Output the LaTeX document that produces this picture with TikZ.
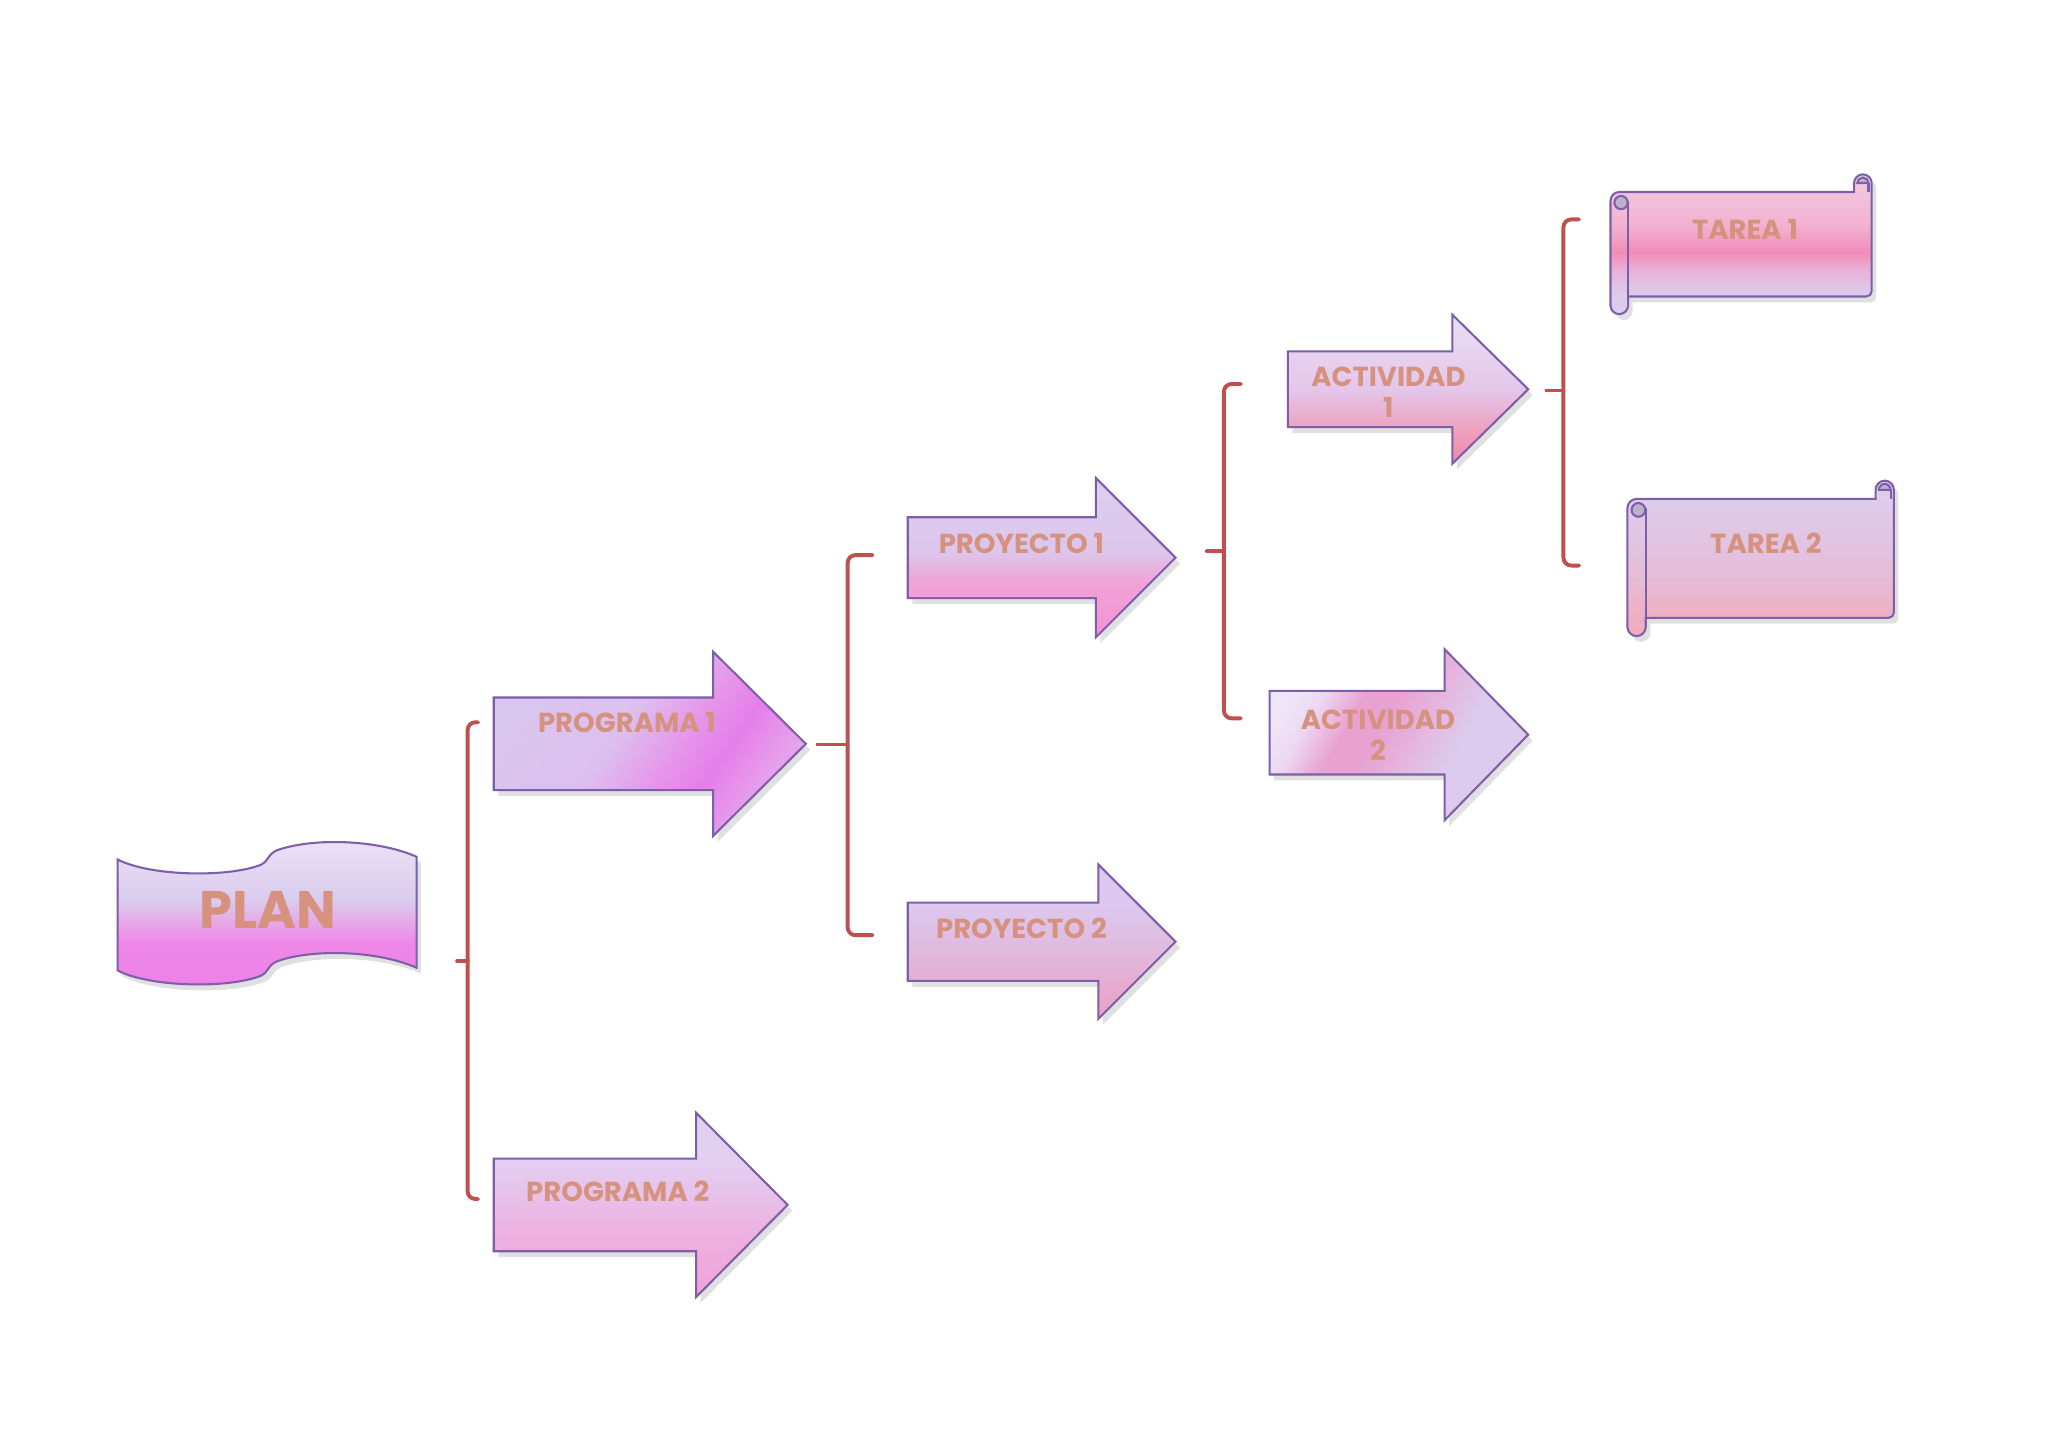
\documentclass[tikz,border=0pt]{standalone}
\usepackage{fontspec}
\setmainfont{Poppins}
\usetikzlibrary{shadows}

\definecolor{txt}{HTML}{D6917F}
\definecolor{edge}{HTML}{7C5FA8}
\definecolor{brk}{HTML}{C0504D}
\definecolor{curlc}{HTML}{BDB0CA}

% PLAN
\definecolor{plA}{HTML}{EE80E8}\definecolor{plB}{HTML}{EE88E8}\definecolor{plC}{HTML}{E6A8E6}
\definecolor{plD}{HTML}{D9CBED}\definecolor{plE}{HTML}{ECE3F6}
\pgfdeclareverticalshading{planshade}{100bp}{color(0bp)=(plA); color(25bp)=(plA); color(40bp)=(plB); color(47bp)=(plC); color(54bp)=(plD); color(75bp)=(plE); color(100bp)=(plE)}
% PROGRAMA 1
\definecolor{paA}{HTML}{D9C6EE}\definecolor{paB}{HTML}{DDBFEE}\definecolor{paC}{HTML}{E596EA}
\definecolor{paD}{HTML}{E67EEA}\definecolor{paE}{HTML}{E6AAEC}
\pgfdeclarehorizontalshading{pashade}{100bp}{color(0bp)=(paA); color(25bp)=(paA); color(44bp)=(paB); color(55bp)=(paC); color(63bp)=(paD); color(75bp)=(paE); color(100bp)=(paE)}
% PROGRAMA 2
\definecolor{pbA}{HTML}{F0A2D8}\definecolor{pbB}{HTML}{EDB0E0}\definecolor{pbC}{HTML}{E2D0F1}
\pgfdeclareverticalshading{pbshade}{100bp}{color(0bp)=(pbA); color(25bp)=(pbA); color(42bp)=(pbB); color(62bp)=(pbC); color(75bp)=(pbC); color(100bp)=(pbC)}
% PROYECTO 1
\definecolor{raA}{HTML}{F590D5}\definecolor{raB}{HTML}{EEA5D8}\definecolor{raC}{HTML}{DCC6EC}\definecolor{raD}{HTML}{DCCEEF}
\pgfdeclareverticalshading{rashade}{100bp}{color(0bp)=(raA); color(25bp)=(raA); color(43bp)=(raB); color(52bp)=(raC); color(75bp)=(raD); color(100bp)=(raD)}
% PROYECTO 2
\definecolor{rbA}{HTML}{EAA0C2}\definecolor{rbB}{HTML}{E2B6DC}\definecolor{rbC}{HTML}{DCC8EE}
\pgfdeclareverticalshading{rbshade}{100bp}{color(0bp)=(rbA); color(25bp)=(rbA); color(45bp)=(rbB); color(62bp)=(rbC); color(75bp)=(rbC); color(100bp)=(rbC)}
% ACTIVIDAD 1
\definecolor{aaA}{HTML}{F088A8}\definecolor{aaB}{HTML}{EEA0BC}\definecolor{aaC}{HTML}{E4C6EA}\definecolor{aaD}{HTML}{E8E0F5}
\pgfdeclareverticalshading{aashade}{100bp}{color(0bp)=(aaA); color(25bp)=(aaA); color(36bp)=(aaB); color(50bp)=(aaC); color(75bp)=(aaD); color(100bp)=(aaD)}
% ACTIVIDAD 2
\definecolor{abA}{HTML}{EEE6F8}\definecolor{abB}{HTML}{ECD8F2}\definecolor{abC}{HTML}{E8A2D2}
\definecolor{abD}{HTML}{E4B8E0}\definecolor{abE}{HTML}{DCCBEE}
\pgfdeclarehorizontalshading{abshade}{100bp}{color(0bp)=(abA); color(25bp)=(abA); color(31bp)=(abB); color(39bp)=(abC); color(46bp)=(abC); color(55bp)=(abD); color(63bp)=(abE); color(75bp)=(abE); color(100bp)=(abE)}
% TAREA 1
\definecolor{taA}{HTML}{DCCDEE}\definecolor{taB}{HTML}{DBCCEE}\definecolor{taC}{HTML}{E7B4DA}
\definecolor{taD}{HTML}{F28CB8}\definecolor{taE}{HTML}{F2B2D0}\definecolor{taF}{HTML}{F2CCE4}
\pgfdeclareverticalshading{tashade}{100bp}{color(0bp)=(taA); color(25bp)=(taA); color(32bp)=(taB); color(40bp)=(taC); color(47bp)=(taD); color(57bp)=(taE); color(75bp)=(taF); color(100bp)=(taF)}
% TAREA 2
\definecolor{tbA}{HTML}{F2AAB8}\definecolor{tbB}{HTML}{E4BFDC}\definecolor{tbC}{HTML}{DCD0F0}
\pgfdeclareverticalshading{tbshade}{100bp}{color(0bp)=(tbA); color(25bp)=(tbA); color(48bp)=(tbB); color(75bp)=(tbC); color(100bp)=(tbC)}

\tikzset{
  figshape/.style={draw=edge, line width=0.9pt, line join=miter,
    drop shadow={shadow xshift=0.7mm, shadow yshift=-0.9mm, opacity=0.2, fill=black!60}},
  edgeline/.style={draw=edge, line width=0.9pt},
  lbl/.style={text=txt, font=\bfseries\fontsize{12}{15}\selectfont, align=center, inner sep=0pt},
  bracketline/.style={draw=brk, line width=1.7pt, rounded corners=1.2mm, line cap=round},
}

% right arrow: name, x0, ytop, ybot, xhead, headtop, headbot, xtip, shading options
\newcommand\rarrow[9]{%
  \path[figshape, #9] (#2,#3) -- (#5,#3) -- (#5,#6) -- (#8,{(#6+#7)/2}) -- (#5,#7) -- (#5,#4) -- (#2,#4) -- cycle;
  \coordinate (#1-tip) at (#8,{(#6+#7)/2});
  \coordinate (#1-tail) at (#2,{(#3+#4)/2});
}
% scroll: name, L, R, T, B, s, shading
\newcommand\scrollshape[7]{%
  \path[figshape, shading=#7] (#2,#5+#6/2) -- (#2,#4+#6/2)
     arc[start angle=180, end angle=90, radius=#6*0.1mm]
     -- (#3-#6,#4) -- (#3-#6,#4-#6/2)
     arc[start angle=180, end angle=0, radius=#6*0.1mm]
     -- (#3,#5-4) arc[start angle=0, end angle=-90, radius=0.8mm]
     -- (#2+#6,#5) -- (#2+#6,#5+#6/2)
     arc[start angle=0, end angle=-180, radius=#6*0.1mm] -- cycle;
  % right curl
  \draw[edgeline, fill=curlc] (#3-#6*0.82,#4-#6/2) arc[start angle=180, end angle=0, radius=#6*0.064mm] -- cycle;
  \draw[edgeline] (#3-#6*0.18,#4-#6/2) -- (#3-#6*0.18,#4);
  % left roll
  \draw[edgeline] (#2+#6,#4+#6/2) -- (#2+#6,#5+#6/2);
  \draw[edgeline, fill=curlc] (#2+#6*0.6,#4+#6*0.6) circle[radius=#6*0.075mm];
  \coordinate (#1-west) at (#2,{(#4+#5)/2});
}
% bracket: name, x, top, bottom, mid, midtip x, tick length
\newcommand\bracketat[7]{%
  \coordinate (#1-top) at (#2+#7,#3);
  \coordinate (#1-bot) at (#2+#7,#4);
  \coordinate (#1-mid) at (#6,#5);
  \draw[bracketline] (#1-top) -- (#2,#3) -- (#2,#4) -- (#1-bot);
  \draw[bracketline, rounded corners=0pt] (#2,#5) -- (#1-mid);
}

\begin{document}
\begin{tikzpicture}[x=0.2mm, y=-0.2mm]
\useasboundingbox[fill=white] (0,0) rectangle (1568,1109);

% PLAN wave
\path[figshape, shading=planshade]
  (90,658) .. controls (115,671) and (175,672) .. (200,662)
  .. controls (205,660) and (205,654) .. (212,651)
  .. controls (240,641) and (290,643) .. (319,656)
  -- (319,741)
  .. controls (290,728) and (240,726) .. (212,736)
  .. controls (205,739) and (205,745) .. (200,747)
  .. controls (175,757) and (115,756) .. (90,743) -- cycle;
\node[lbl, font=\bfseries\fontsize{23}{26}\selectfont] (plan) at (205,697) {PLAN};

% arrows
\rarrow{prog1}{378}{534}{605}{546}{499}{640}{617}{shading=pashade, shading angle=-35}
\rarrow{prog2}{378}{887}{958}{533}{852}{993}{603}{shading=pbshade}
\rarrow{proy1}{695}{396}{458}{839}{366}{488}{900}{shading=rashade}
\rarrow{proy2}{695}{691}{751}{841}{662}{780}{900}{shading=rbshade}
\rarrow{act1}{986}{269}{327}{1112}{241}{355}{1170}{shading=aashade}
\rarrow{act2}{972}{529}{593}{1106}{497}{628}{1170}{shading=abshade, shading angle=-30}

\node[lbl] (lprog1) at (480,553) {PROGRAMA 1};
\node[lbl] (lprog2) at (473,912) {PROGRAMA 2};
\node[lbl] (lproy1) at (782,416) {PROYECTO 1};
\node[lbl] (lproy2) at (782,711) {PROYECTO 2};
\node[lbl, font=\bfseries\fontsize{12}{13.5}\selectfont] (lact1) at (1063,300) {ACTIVIDAD\\1};
\node[lbl, font=\bfseries\fontsize{12}{13.5}\selectfont] (lact2) at (1055,563) {ACTIVIDAD\\2};

% scrolls
\scrollshape{tarea1}{1233}{1433}{147}{227}{13.5}{tashade}
\scrollshape{tarea2}{1246}{1450}{382}{473}{14}{tbshade}
\node[lbl] (ltarea1) at (1336,176) {TAREA 1};
\node[lbl] (ltarea2) at (1352,416) {TAREA 2};

% brackets
\bracketat{b1}{358}{553}{918}{736}{350}{8}
\bracketat{b2}{649}{425}{716}{570}{626}{19}
\bracketat{b3}{937}{294}{550}{422}{924}{13}
\bracketat{b4}{1197}{168}{433}{299}{1184}{12}
\end{tikzpicture}
\end{document}
